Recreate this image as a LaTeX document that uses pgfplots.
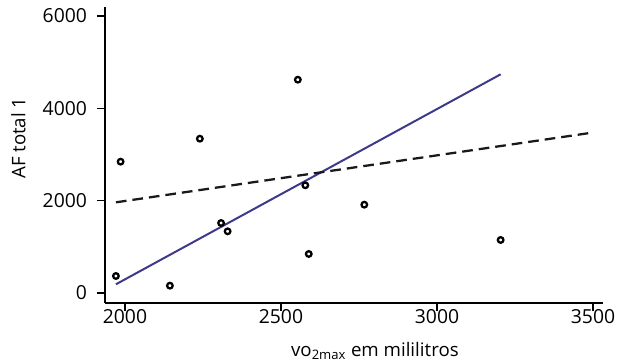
\documentclass[border=0pt]{standalone}
\usepackage{pgfplots}
\pgfplotsset{compat=1.18}
\usepackage{fontspec}
\setmainfont{Open Sans}
\definecolor{lineblue}{RGB}{62,58,138}
\begin{document}
\begin{tikzpicture}
\begin{axis}[
  at={(0,0)}, anchor=south west,
  scale only axis, width=373.5pt, height=222pt,
  xmin=1936, xmax=3532, ymin=-217, ymax=6195,
  axis x line*=bottom, axis y line*=left,
  axis line style={line width=1.2pt, black},
  tick style={line width=1.2pt, black},
  tick align=outside, major tick length=6pt,
  xtick={2000,2500,3000,3500}, ytick={0,2000,4000,6000},
  /pgf/number format/1000 sep={},
  /pgf/number format/assume math mode=true,
  font=\fontsize{14}{16}\selectfont,
  ticklabel style={font=\fontsize{14.5}{16}\selectfont},
  xticklabel style={yshift=4.5pt},
  yticklabel style={xshift=-4pt},
  xlabel={vo\textsubscript{2max} em mililitros},
  ylabel={AF total 1},
  xlabel style={at={(axis description cs:0.542,0)}, anchor=base, yshift=-40.5pt},
  ylabel style={at={(axis description cs:0,0.557)}, anchor=center, rotate=0, yshift=64.9pt},
  clip=false,
]
\addplot[only marks, mark=o, mark size=2.1pt, mark options={line width=1.7pt, black}] coordinates {
  (1986,2844) (1971,368) (2144,158) (2240,3342) (2308,1516) (2329,1336)
  (2554,4620) (2578,2333) (2589,845) (2767,1913) (3204,1148)
};
\addplot[lineblue, line width=1.5pt] coordinates {(1971,188) (3204,4737)};
\addplot[black!90, line width=1.7pt, dash pattern=on 8pt off 4.5pt] coordinates {(1971,1964) (3489,3465)};
\end{axis}
\pgfresetboundingbox
\useasboundingbox (-78.75pt,-45.75pt) rectangle (393pt,227.25pt);
\end{tikzpicture}
\end{document}
